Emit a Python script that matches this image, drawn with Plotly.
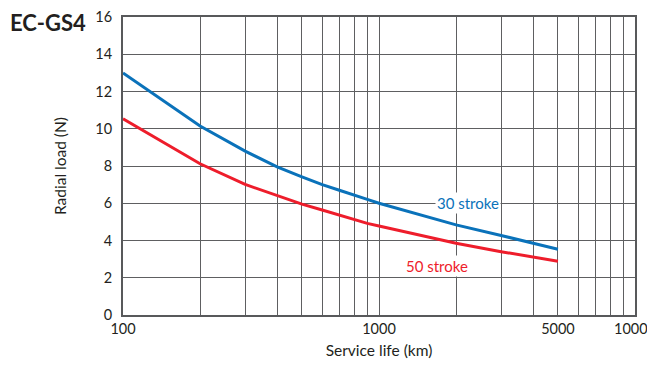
import plotly.graph_objects as go

# service life (km) and radial load (N)
service_km = [100, 200, 300, 400, 500, 600, 700, 800, 900, 1000, 2000, 3000, 4000, 5000]
load_30_stroke = [13.0, 10.15, 8.8, 7.95, 7.42, 7.0, 6.7, 6.42, 6.21, 6.0, 4.84, 4.27, 3.87, 3.53]
load_50_stroke = [10.54, 8.12, 7.01, 6.39, 5.95, 5.64, 5.36, 5.13, 4.92, 4.78, 3.85, 3.40, 3.10, 2.89]

x_tick_vals = [100, 1000, 5000, 10000]
x_tick_text = ['100', '1000', '5000', '10000']
x_minor_grid = [200, 300, 400, 500, 600, 700, 800, 900,
                2000, 3000, 4000, 6000, 7000, 8000, 9000]
y_tick_vals = [0, 2, 4, 6, 8, 10, 12, 14, 16]

BLUE = '#0a72ba'
RED = '#ee1d2b'
GRID = '#5e5f61'
TEXT = '#231f20'

fig = go.Figure()
fig.add_trace(go.Scatter(x=service_km, y=load_30_stroke, mode='lines',
                         line={'color': BLUE, 'width': 3}, name='30 stroke'))
fig.add_trace(go.Scatter(x=service_km, y=load_50_stroke, mode='lines',
                         line={'color': RED, 'width': 3}, name='50 stroke'))

fig.add_annotation(x=3.347, y=6, xref='x', yref='y', text='30 stroke',
                   showarrow=False, bgcolor='white', borderpad=1,
                   font={'color': BLUE, 'size': 15, 'family': 'Lato'})
fig.add_annotation(x=3.228, y=2.63, xref='x', yref='y', text='50 stroke',
                   showarrow=False, bgcolor='white', borderpad=1,
                   font={'color': RED, 'size': 15, 'family': 'Lato'})
fig.add_annotation(x=-0.2246, y=1.035, xref='paper', yref='paper',
                   xanchor='left', yanchor='top', text='<b>EC-GS4</b>',
                   showarrow=False, font={'color': TEXT, 'size': 22, 'family': 'Lato'})

# the page body adds an 8px margin, so the figure is 8px smaller each way
fig.update_layout(
    width=647, height=357,
    margin={'l': 115, 'r': 20, 't': 9, 'b': 50},
    paper_bgcolor='white', plot_bgcolor='white',
    showlegend=False,
    font={'family': 'Lato', 'color': TEXT, 'size': 14.5},
)
fig.update_xaxes(
    type='log', range=[2, 4], automargin=False,
    tickvals=x_tick_vals, ticktext=x_tick_text,
    ticklabeloverflow='allow',
    showgrid=True, gridcolor=GRID, gridwidth=1.2,
    minor={'tickvals': x_minor_grid, 'showgrid': True, 'gridcolor': GRID, 'gridwidth': 1.2},
    showline=True, linecolor='#58595b', linewidth=2, mirror=True,
    ticks='', zeroline=False,
    title={'text': 'Service life (km)', 'font': {'size': 15.5}, 'standoff': 9},
)
fig.update_yaxes(
    range=[0, 16], tickvals=y_tick_vals, automargin=False,
    showgrid=True, gridcolor=GRID, gridwidth=1.2,
    showline=True, linecolor='#58595b', linewidth=2, mirror=True,
    ticks='', zeroline=False, ticklabelstandoff=6,
    title={'text': 'Radial load (N)', 'font': {'size': 15.5}, 'standoff': 25},
)

fig.write_html("out.html")
